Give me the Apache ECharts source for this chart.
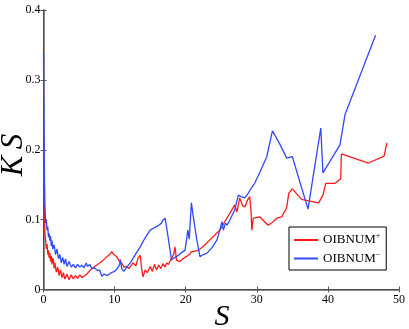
<!DOCTYPE html>
<html>
<head>
<meta charset="utf-8">
<script src="https://cdn.jsdelivr.net/npm/echarts@6/dist/echarts.min.js"></script>
<style>
  html, body { margin: 0; padding: 0; background: #fff; }
  #chart { width: 409px; height: 329px; }
</style>
</head>
<body>
<div id="chart"></div>
<script>
// x ticks / y ticks
const xTicks = [0, 10, 20, 30, 40, 50];
const yTicks = [0, 0.1, 0.2, 0.3, 0.4];

// OIBNUM+ (red), [S, KS]
const plusData = [
  [0, 0.2], [0.05, 0.17], [0.1, 0.14], [0.15, 0.1], [0.2, 0.08], [0.3, 0.07], [0.4, 0.058],
  [0.5, 0.065], [0.6, 0.05], [0.7, 0.056], [0.8, 0.045], [0.9, 0.052], [1.0, 0.04], [1.1, 0.048],
  [1.2, 0.036], [1.3, 0.045], [1.4, 0.042], [1.5, 0.03], [1.6, 0.038], [1.8, 0.025], [2.0, 0.032],
  [2.2, 0.02], [2.4, 0.028], [2.6, 0.017], [2.8, 0.024], [3.0, 0.015], [3.3, 0.022], [3.6, 0.014],
  [3.9, 0.021], [4.2, 0.015], [4.5, 0.02], [4.8, 0.016], [5.1, 0.021], [5.4, 0.017], [5.8, 0.02],
  [6.1, 0.022], [6.6, 0.028], [7.2, 0.033], [7.9, 0.038], [8.4, 0.042], [8.9, 0.047], [9.3, 0.05],
  [9.6, 0.054], [9.9, 0.05], [10.3, 0.047], [10.7, 0.04], [11.0, 0.038], [11.3, 0.032], [11.7, 0.033],
  [12.0, 0.03], [12.2, 0.031], [12.6, 0.038], [13.0, 0.034], [13.3, 0.045], [13.6, 0.049], [13.8, 0.03],
  [14.0, 0.018], [14.3, 0.028], [14.6, 0.024], [15.0, 0.033], [15.3, 0.026], [15.6, 0.036], [15.9, 0.028],
  [16.2, 0.035], [16.5, 0.03], [16.8, 0.037], [17.1, 0.032], [17.3, 0.038], [17.6, 0.036], [18.0, 0.045],
  [18.3, 0.05], [18.5, 0.061], [18.7, 0.042], [19.2, 0.04], [19.6, 0.044], [20.1, 0.047], [20.5, 0.05],
  [20.8, 0.054], [21.3, 0.055], [21.8, 0.056], [22.6, 0.063], [23.4, 0.071], [24.1, 0.078], [24.8, 0.085],
  [25.5, 0.097], [26.2, 0.109], [26.9, 0.121], [27.2, 0.111], [27.6, 0.131], [28.0, 0.12], [28.3, 0.118],
  [28.7, 0.128], [29.0, 0.133], [29.2, 0.11], [29.3, 0.085], [29.5, 0.102], [30.4, 0.104], [31.6, 0.092],
  [32.3, 0.097], [32.8, 0.102], [33.5, 0.104], [34.2, 0.117], [34.5, 0.138], [35.0, 0.144], [36.3, 0.129],
  [38.7, 0.124], [39.3, 0.135], [39.7, 0.152], [41.0, 0.152], [41.8, 0.158], [41.9, 0.194], [45.7, 0.181],
  [47.9, 0.191], [48.3, 0.21]
];

// OIBNUM- (blue), [S, KS]
const minusData = [
  [0, 0.34], [0.05, 0.25], [0.1, 0.2], [0.15, 0.15], [0.2, 0.12], [0.3, 0.095], [0.4, 0.1], [0.5, 0.085],
  [0.6, 0.09], [0.7, 0.075], [0.8, 0.08], [0.9, 0.07], [1.0, 0.076], [1.1, 0.062], [1.2, 0.07], [1.3, 0.058],
  [1.5, 0.064], [1.7, 0.05], [1.9, 0.058], [2.1, 0.044], [2.3, 0.05], [2.5, 0.038], [2.7, 0.046], [2.9, 0.036],
  [3.1, 0.044], [3.3, 0.033], [3.6, 0.04], [3.9, 0.032], [4.2, 0.036], [4.5, 0.031], [4.8, 0.036], [5.1, 0.032],
  [5.4, 0.035], [5.7, 0.031], [6.0, 0.038], [6.2, 0.033], [6.5, 0.036], [6.8, 0.03], [7.2, 0.031], [7.6, 0.027],
  [7.9, 0.028], [8.2, 0.019], [8.5, 0.022], [9.0, 0.02], [9.5, 0.024], [10.0, 0.026], [10.4, 0.03], [10.7, 0.036],
  [10.8, 0.043], [11.0, 0.03], [11.3, 0.026], [11.8, 0.033], [12.2, 0.038], [12.8, 0.048], [13.6, 0.061],
  [14.3, 0.074], [15.0, 0.085], [15.5, 0.088], [15.9, 0.09], [16.2, 0.092], [16.6, 0.095], [16.8, 0.099],
  [17.1, 0.102], [17.3, 0.09], [17.6, 0.07], [18.0, 0.042], [18.3, 0.045], [18.7, 0.047], [19.3, 0.052],
  [19.9, 0.056], [20.1, 0.07], [20.3, 0.085], [20.5, 0.072], [20.6, 0.071], [20.8, 0.124], [21.0, 0.109],
  [21.5, 0.075], [22.0, 0.047], [22.5, 0.05], [23.0, 0.052], [23.7, 0.06], [24.4, 0.071], [24.8, 0.085],
  [25.1, 0.097], [25.3, 0.085], [25.6, 0.095], [25.8, 0.092], [26.2, 0.099], [26.9, 0.114], [27.4, 0.135],
  [27.8, 0.133], [28.3, 0.131], [28.8, 0.138], [29.3, 0.146], [29.7, 0.152], [30.4, 0.167], [31.4, 0.19],
  [32.2, 0.227], [33.3, 0.207], [34.2, 0.188], [35.0, 0.19], [37.2, 0.115], [39.0, 0.231], [39.3, 0.167],
  [41.7, 0.207], [42.4, 0.25], [46.7, 0.364]
];

const serif = "'Liberation Serif', 'DejaVu Serif', serif";
const red = '#ff1a1a';
const blue = '#3048ff';

const chart = echarts.init(document.getElementById('chart'), null, { renderer: 'canvas' });

const tickStyle = { show: true, inside: true, length: 3, lineStyle: { color: '#555', width: 1 } };

chart.setOption({
  animation: false,
  backgroundColor: '#fff',
  grid: { left: 43.5, top: 10, right: 10, bottom: 39.5, containLabel: false, outerBoundsMode: 'none' },
  // axis titles placed by hand (axis name layout pushes them off the canvas)
  graphic: [
    {
      type: 'text', x: 14, y: 155, rotation: Math.PI / 2,
      style: {
        text: 'K\u2009S', fontFamily: serif, fontStyle: 'italic', fontSize: 31, fill: '#000',
        align: 'center', verticalAlign: 'middle'
      }
    },
    {
      type: 'text', x: 222, y: 317,
      style: {
        text: 'S', fontFamily: serif, fontStyle: 'italic', fontSize: 30, fill: '#000',
        align: 'center', verticalAlign: 'middle'
      }
    }
  ],
  xAxis: [
    {
      type: 'value', min: xTicks[0], max: xTicks[xTicks.length - 1], interval: 10,
      axisLine: { show: true, onZero: false, lineStyle: { color: '#000', width: 1 } },
      axisTick: tickStyle,
      axisLabel: { fontFamily: serif, fontSize: 12, color: '#000', margin: 4 },
      splitLine: { show: false }
    },
    {
      type: 'value', position: 'top', min: 0, max: 50, interval: 10,
      axisLine: { show: true, lineStyle: { color: '#666', width: 1.5 } },
      axisTick: tickStyle, axisLabel: { show: false }, splitLine: { show: false }
    }
  ],
  yAxis: [
    {
      type: 'value', min: yTicks[0], max: yTicks[yTicks.length - 1], interval: 0.1,
      axisLine: { show: true, onZero: false, lineStyle: { color: '#000', width: 1 } },
      axisTick: tickStyle,
      axisLabel: {
        fontFamily: serif, fontSize: 12, color: '#000', margin: 3,
        formatter: v => (v === 0 ? '0' : v.toFixed(1))
      },
      splitLine: { show: false }
    },
    {
      type: 'value', position: 'right', min: 0, max: 0.4, interval: 0.1,
      axisLine: { show: true, lineStyle: { color: '#666', width: 1.5 } },
      axisTick: tickStyle, axisLabel: { show: false }, splitLine: { show: false }
    }
  ],
  legend: {
    left: 289, top: 227, orient: 'vertical',
    padding: [5, 6, 5, 5], itemGap: 4,
    itemWidth: 24, itemHeight: 2,
    borderColor: '#000', borderWidth: 1, backgroundColor: '#fff',
    icon: 'rect',
    data: ['OIBNUM+', 'OIBNUM-'],
    formatter: name => (name === 'OIBNUM+' ? 'OIBNUM{sup|+}' : 'OIBNUM{sup|\u2212}'),
    textStyle: {
      fontFamily: serif, fontSize: 13, color: '#000',
      rich: { sup: { fontFamily: serif, fontSize: 8, color: '#000', verticalAlign: 'top', padding: [0, 0, 8, 0] } }
    }
  },
  series: [
    {
      name: 'OIBNUM+', type: 'line', data: plusData, showSymbol: false, symbol: 'none',
      lineStyle: { color: red, width: 1.3 }, itemStyle: { color: red }, z: 2
    },
    {
      name: 'OIBNUM-', type: 'line', data: minusData, showSymbol: false, symbol: 'none',
      lineStyle: { color: blue, width: 1.3 }, itemStyle: { color: blue }, z: 3
    }
  ]
});
</script>
</body>
</html>
